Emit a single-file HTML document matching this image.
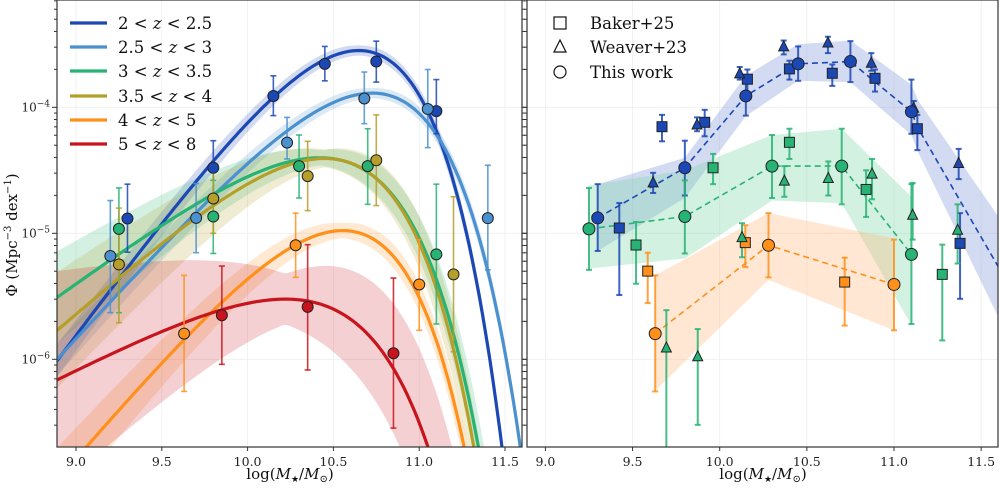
<!DOCTYPE html>
<html><head><meta charset="utf-8">
<style>
html,body{margin:0;padding:0;background:#fff;width:1000px;height:488px;overflow:hidden;}
svg{display:block;font-family:"DejaVu Serif","Liberation Serif",serif;}
</style></head>
<body>
<svg id="chart" width="1000" height="488" viewBox="0 0 1000 488" xmlns="http://www.w3.org/2000/svg">
<defs>
<clipPath id="clipL"><rect x="57" y="0" width="465" height="447"/></clipPath>
<clipPath id="clipR"><rect x="527" y="0" width="471" height="447"/></clipPath>
</defs>
<rect x="0" y="0" width="1000" height="488" fill="#fff"/>
<g id="gridL" clip-path="url(#clipL)"></g>
<g id="gridR" clip-path="url(#clipR)"></g>
<g id="bandsL" clip-path="url(#clipL)"></g>
<g id="curvesL" clip-path="url(#clipL)"></g>
<g id="pointsL" clip-path="url(#clipL)"></g>
<g id="bandsR" clip-path="url(#clipR)"></g>
<g id="pointsR" clip-path="url(#clipR)"></g>
<g id="axes"></g>
<g id="legendL"></g>
<g id="legendR"></g>
</svg>
<script>
// ---- Left panel: Schechter fit parameters per redshift bin ----
const binLabels = ["2 < z < 2.5","2.5 < z < 3","3 < z < 3.5","3.5 < z < 4","4 < z < 5","5 < z < 8"];
const binColors = ["#1c48b5","#4b91cf","#27b374","#b59f2a","#ff901c","#c8141c"];
const fitMstar = [10.38, 10.55, 10.42, 10.37, 10.35, 10.375];
const fitAlpha = [0.85, 0.5, 0.0, 0.2, 0.6, -0.3];
const fitLogPhi = [-3.24, -3.50, -3.966, -3.98, -4.61, -5.11];
const bandW0 = [0.04, 0.04, 0.06, 0.07, 0.06, 0.2];
const bandW1 = [0.05, 0.05, 0.2, 0.25, 0.12, 0.5];

// ---- data points (log10 Phi) ----
const ptX = [
 [9.30, 9.80, 10.15, 10.45, 10.75, 11.10],
 [9.20, 9.70, 10.23, 10.68, 11.05, 11.40],
 [9.25, 9.80, 10.30, 10.70, 11.10],
 [9.25, 9.80, 10.35, 10.75, 11.20],
 [9.63, 10.28, 11.00],
 [9.85, 10.35, 10.85]];
const ptY = [
 [-4.883, -4.48, -3.91, -3.655, -3.637, -4.03],
 [-5.18, -4.878, -4.28, -3.93, -4.013, -4.88],
 [-4.965, -4.867, -4.467, -4.467, -5.167],
 [-5.247, -4.724, -4.546, -4.42, -5.326],
 [-5.796, -5.095, -5.406],
 [-5.65, -5.584, -5.952]];
const ptHi = [
 [-4.61, -4.265, -3.75, -3.517, -3.475, -3.78],
 [-4.74, -4.605, -4.08, -3.72, -3.70, -4.46],
 [-4.64, -4.58, -4.22, -4.17, -4.61],
 [-4.80, -4.44, -4.27, -4.06, -4.71],
 [-5.334, -4.84, -5.05],
 [-5.26, -5.09, -5.355]];
const ptLo = [
 [-5.15, -4.70, -4.066, -3.79, -3.80, -4.21],
 [-5.63, -5.154, -4.41, -4.13, -4.32, -5.29],
 [-5.63, -5.16, -4.72, -4.77, -5.72],
 [-5.71, -5.00, -4.82, -4.78, -5.94],
 [-6.255, -5.35, -5.77],
 [-6.04, -6.085, -6.546]];

// ---- Right panel: this work (dashed) with bands ----
const rColors = ["#1c48b5","#27b374","#ff901c"];
const rBandColors = ["#7d97d8","#7fd6a8","#ffbb80"];
const rLineX = [[9.30,9.80,10.15,10.45,10.75,11.10,11.14,11.60],[9.25,9.80,10.30,10.70,11.10],[9.63,10.28,11.00]];
const rLineY = [[-4.878,-4.48,-3.91,-3.655,-3.637,-4.035,-4.17,-5.27],[-4.965,-4.867,-4.467,-4.467,-5.167],[-5.796,-5.095,-5.406]];
const rBandHi = [[-4.61,-4.40,-3.75,-3.50,-3.47,-3.82,-3.95,-4.87],[-4.62,-4.50,-4.22,-4.17,-4.71],[-5.334,-4.84,-5.04]];
const rBandLo = [[-5.14,-4.72,-4.07,-3.79,-3.80,-4.22,-4.36,-5.67],[-5.28,-5.20,-4.74,-4.76,-5.73],[-6.25,-5.37,-5.77]];
const rCircX = [[9.30,9.80,10.15,10.45,10.75,11.10],[9.25,9.80,10.30,10.70,11.10],[9.63,10.28,11.00]];
const rCircY = [[-4.878,-4.48,-3.91,-3.655,-3.637,-4.035],[-4.965,-4.867,-4.467,-4.467,-5.167],[-5.796,-5.095,-5.406]];
const rCircHi = [[-4.61,-4.265,-3.75,-3.517,-3.475,-3.78],[-4.64,-4.58,-4.22,-4.17,-4.61],[-5.334,-4.84,-5.05]];
const rCircLo = [[-5.14,-4.70,-4.066,-3.79,-3.80,-4.21],[-5.29,-5.16,-4.72,-4.77,-5.72],[-6.255,-5.35,-5.77]];
// Baker+25 squares
const sqX = [[9.424,9.669,9.914,10.159,10.40,10.646,10.891,11.134,11.379],[9.52,9.962,10.40,10.84,11.277],[9.587,10.147,10.717]];
const sqY = [[-4.958,-4.154,-4.119,-3.777,-3.695,-3.73,-3.77,-4.17,-5.08],[-5.093,-4.48,-4.278,-4.652,-5.326],[-5.30,-5.074,-5.387]];
const sqHi = [[-4.76,-4.06,-4.02,-3.70,-3.63,-3.66,-3.70,-4.06,-4.84],[-4.91,-4.37,-4.17,-4.50,-5.09],[-5.154,-4.936,-5.194]];
const sqLo = [[-5.49,-4.27,-4.23,-3.88,-3.78,-3.83,-3.875,-4.34,-5.52],[-5.40,-4.61,-4.41,-4.87,-5.85],[-5.554,-5.268,-5.732]];
// Weaver+23 triangles
const trX = [[9.618,9.87,10.115,10.367,10.621,10.87,11.113,11.371],[9.694,9.874,10.128,10.371,10.623,10.874,11.107,11.365]];
const trY = [[-4.60,-4.14,-3.735,-3.52,-3.49,-3.65,-4.008,-4.446],[-5.91,-5.98,-5.034,-4.586,-4.565,-4.53,-4.857,-4.976]];
const trHi = [[-4.52,-4.08,-3.68,-3.47,-3.44,-3.57,-3.95,-4.33],[-5.61,-5.76,-4.92,-4.467,-4.43,-4.41,-4.60,-4.77]];
const trLo = [[-4.68,-4.19,-3.78,-3.58,-3.57,-3.71,-4.07,-4.57],[-6.9,-6.52,-5.19,-4.71,-4.70,-4.73,-5.05,-5.24]];

const xTicks = ["9.0","9.5","10.0","10.5","11.0","11.5"];
const yTickExp = [-4,-5,-6];

const NS = "http://www.w3.org/2000/svg";
function el(tag, attrs, parent){const e=document.createElementNS(NS,tag);for(const k in attrs)e.setAttribute(k,attrs[k]);if(parent)parent.appendChild(e);return e;}
const XL = x => 76 + (x-9)*171.6;
const XR = x => 545.4 + (x-9)*174.3;
const Y = lv => 107.3 + (-4 - Math.max(lv,-7))*126;
function schech(i,x){const u=x-fitMstar[i];const a=fitAlpha[i]+1;return fitLogPhi[i]+a*u-Math.pow(10,u)*Math.LOG10E;}

// grids
const gL=document.getElementById('gridL'), gR=document.getElementById('gridR');
xTicks.forEach(t=>{const v=parseFloat(t);
 const a=el('line',{x1:XL(v),x2:XL(v),y1:0,y2:447,stroke:"#eee","stroke-width":0.8},gL);
 
 const b=el('line',{x1:XR(v),x2:XR(v),y1:0,y2:447,stroke:"#eee","stroke-width":0.8},gR);
 });
yTickExp.forEach(e=>{
 const a=el('line',{x1:57,x2:522,y1:Y(e),y2:Y(e),stroke:"#eee","stroke-width":0.8},gL);
 
 const b=el('line',{x1:527,x2:998,y1:Y(e),y2:Y(e),stroke:"#eee","stroke-width":0.8},gR);
 });

// left bands and curves
const bL=document.getElementById('bandsL'), cL=document.getElementById('curvesL');
for(let i=0;i<6;i++){
 const xp=fitMstar[i]+Math.log10(fitAlpha[i]+1);
 let up=[],dn=[],ln=[];
 for(let x=8.85;x<=11.65;x+=0.02){const v=schech(i,x);const w=bandW0[i]+bandW1[i]*Math.abs(x-xp);
  up.push(XL(x).toFixed(1)+","+Y(v+w).toFixed(1));dn.unshift(XL(x).toFixed(1)+","+Y(v-w).toFixed(1));ln.push(XL(x).toFixed(1)+","+Y(v).toFixed(1));}
 const band=el('polygon',{points:up.concat(dn).join(" "),fill:binColors[i],"fill-opacity":0.2},bL);
 
 const line=el('polyline',{points:ln.join(" "),fill:"none",stroke:binColors[i],"stroke-width":3.2},cL);
 
}
function errbar(g,X,x,hi,lo,c,w){
 const e=el('g',{stroke:c,"stroke-width":w||1.6,"stroke-opacity":0.85},g);
 
 el('line',{x1:X(x),x2:X(x),y1:Y(hi),y2:Y(lo)},e);
 el('line',{x1:X(x)-3,x2:X(x)+3,y1:Y(hi),y2:Y(hi)},e);
 el('line',{x1:X(x)-3,x2:X(x)+3,y1:Y(lo),y2:Y(lo)},e);
}
const pL=document.getElementById('pointsL');
for(let i=0;i<6;i++){for(let j=0;j<ptX[i].length;j++)errbar(pL,XL,ptX[i][j],ptHi[i][j],ptLo[i][j],binColors[i]);}
for(let i=0;i<6;i++){for(let j=0;j<ptX[i].length;j++){
 const c=el('circle',{cx:XL(ptX[i][j]),cy:Y(ptY[i][j]),r:5.5,fill:binColors[i],stroke:"#222","stroke-width":1},pL);
 }}

// right panel
const bR=document.getElementById('bandsR'), pR=document.getElementById('pointsR');
for(let i=0;i<3;i++){
 const up=rLineX[i].map((x,k)=>XR(x).toFixed(1)+","+Y(rBandHi[i][k]).toFixed(1));
 const dn=rLineX[i].map((x,k)=>XR(x).toFixed(1)+","+Y(rBandLo[i][k]).toFixed(1)).reverse();
 const p=el('polygon',{points:up.concat(dn).join(" "),fill:rBandColors[i],"fill-opacity":0.35},bR);
 
}
for(let i=0;i<3;i++){
 const pts=rLineX[i].map((x,k)=>XR(x).toFixed(1)+","+Y(rLineY[i][k]).toFixed(1));
 const l=el('polyline',{points:pts.join(" "),fill:"none",stroke:rColors[i],"stroke-width":1.6,"stroke-dasharray":"6,4"},pR);
 
}
for(let i=0;i<3;i++){
 sqX[i].forEach((x,k)=>errbar(pR,XR,x,sqHi[i][k],sqLo[i][k],rColors[i],2));
 rCircX[i].forEach((x,k)=>errbar(pR,XR,x,rCircHi[i][k],rCircLo[i][k],rColors[i],2));
}
for(let i=0;i<2;i++){trX[i].forEach((x,k)=>errbar(pR,XR,x,trHi[i][k],trLo[i][k],rColors[i],2));}
for(let i=0;i<3;i++){
 sqX[i].forEach((x,k)=>{const s=el('rect',{x:XR(x)-5,y:Y(sqY[i][k])-5,width:10,height:10,fill:rColors[i],stroke:"#222","stroke-width":1},pR);
  });
}
for(let i=0;i<2;i++){
 trX[i].forEach((x,k)=>{const cx=XR(x),cy=Y(trY[i][k]);
  const t=el('polygon',{points:`${cx},${cy-6} ${cx-5},${cy+4} ${cx+5},${cy+4}`,fill:rColors[i],stroke:"#222","stroke-width":1},pR);
  });
}
for(let i=0;i<3;i++){
 rCircX[i].forEach((x,k)=>{const c=el('circle',{cx:XR(x),cy:Y(rCircY[i][k]),r:6,fill:rColors[i],stroke:"#222","stroke-width":1},pR);
  });
}

// axes
const ax=document.getElementById('axes');
const fL=el('rect',{x:57,y:0,width:465,height:447,fill:"none",stroke:"#333","stroke-width":1.2},ax);

const fR=el('rect',{x:527,y:0,width:471,height:447,fill:"none",stroke:"#333","stroke-width":1.2},ax);

xTicks.forEach(t=>{const v=parseFloat(t);
 [[XL,'left'],[XR,'right']].forEach(([X,s])=>{
  el('line',{x1:X(v),x2:X(v),y1:447,y2:451,stroke:"#333"},ax);
  const tx=el('text',{x:X(v),y:466,"text-anchor":"middle","font-size":12.5,fill:"#222"},ax);
  tx.textContent=t;
  
 });});
for(let d=-7;d<=-3;d++){for(let m=1;m<10;m++){const lv=d+Math.log10(m);const y=Y(lv);if(y<0||y>447)continue;
 const len=m===1?5:3;
 el('line',{x1:57-len,x2:57,y1:y,y2:y,stroke:"#333"},ax);
 el('line',{x1:522,x2:522+len,y1:y,y2:y,stroke:"#333"},ax);
 el('line',{x1:527-len,x2:527,y1:y,y2:y,stroke:"#333"},ax);
}}
yTickExp.forEach(e=>{const t=el('text',{x:50,y:Y(e)+4,"text-anchor":"end","font-size":12,fill:"#222"},ax);
 
 t.innerHTML='10<tspan dy="-5" font-size="9">\u2212'+(-e)+'</tspan>';});
const yt=el('text',{x:0,y:0,transform:"translate(17,235) rotate(-90)","text-anchor":"middle","font-size":15,fill:"#111"},ax);

yt.innerHTML='\u03A6 (Mpc<tspan dy="-6" font-size="10">\u22123</tspan><tspan dy="6"> dex</tspan><tspan dy="-6" font-size="10">\u22121</tspan><tspan dy="6">)</tspan>';
[[290,'left'],[763,'right']].forEach(([cx,s])=>{
 const t=el('text',{x:cx,y:479,"text-anchor":"middle","font-size":15,fill:"#111"},ax);
 
 t.innerHTML='log(<tspan font-style="italic">M</tspan><tspan font-size="9" dy="3">\u2605</tspan><tspan dy="-3">/</tspan><tspan font-style="italic">M</tspan><tspan font-size="10" dy="3">\u2299</tspan><tspan dy="-3">)</tspan>';
});

// legends
const lgL=document.getElementById('legendL');
const lys=[23,47,71,96,120,144];
binLabels.forEach((lab,i)=>{
 const g=el('g',{},lgL);
 
 el('line',{x1:70,x2:107,y1:lys[i],y2:lys[i],stroke:binColors[i],"stroke-width":3.2},g);
 const p=lab.split(" z ");
 const t=el('text',{x:118,y:lys[i]+6,"font-size":16.5,fill:"#111"},g);
 t.innerHTML=p[0]+' <tspan font-style="italic">z</tspan> '+p[1];
});
const lgR=document.getElementById('legendR');
const rl=["Baker+25","Weaver+23","This work"];
rl.forEach((lab,i)=>{
 const y=[23,47,72][i];
 const g=el('g',{},lgR);
 
 if(i===0)el('rect',{x:554,y:y-6,width:12,height:12,fill:"none",stroke:"#111","stroke-width":1.2},g);
 if(i===1)el('polygon',{points:`560,${y-7} 554,${y+5} 566,${y+5}`,fill:"none",stroke:"#111","stroke-width":1.2},g);
 if(i===2)el('circle',{cx:560,cy:y,r:6,fill:"none",stroke:"#111","stroke-width":1.2},g);
 const t=el('text',{x:590,y:y+6,"font-size":16.5,fill:"#111"},g);
 t.textContent=lab;
});
</script>
</body></html>
